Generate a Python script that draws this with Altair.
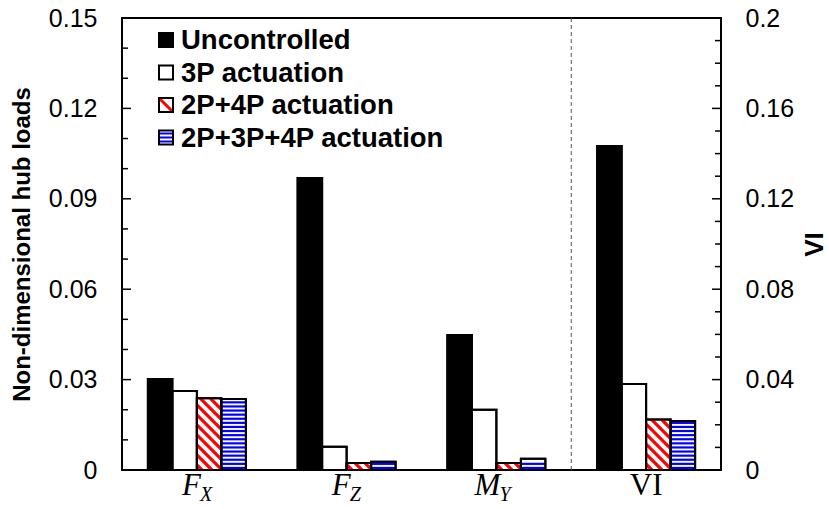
import altair as alt
import pandas as pd

# ---- data -------------------------------------------------------------
SERIES = ["Uncontrolled", "3P actuation", "2P+4P actuation", "2P+3P+4P actuation"]
LOAD_GROUPS = ["FX", "FZ", "MY"]
UNCONTROLLED = [0.0302, 0.0969, 0.0448]
ACT_3P = [0.0262, 0.0077, 0.0200]
ACT_2P4P = [0.0238, 0.0023, 0.0023]
ACT_2P3P4P = [0.0236, 0.0027, 0.0037]
VI_VALUES = [0.1434, 0.0381, 0.0224, 0.0217]

LEFT_TICKS = [0, 0.03, 0.06, 0.09, 0.12, 0.15]
RIGHT_TICKS = [0, 0.04, 0.08, 0.12, 0.16, 0.2]
LABEL_MAIN = ["F", "F", "M", "VI"]
LABEL_SUB = ["X", "Z", "Y", ""]

# ---- layout -----------------------------------------------------------
W, H = 599, 452
LOAD_MAX, VI_MAX = 0.15, 0.2
N_GROUPS = 4
BAR_W = 0.1636                      # bar width in group units
XPX = W / N_GROUPS                  # pixels per group unit
FONT = "Liberation Sans"
SERIF = "Liberation Serif"
FILLS = ["black", "white", "white", "white"]
RED, BLUE = "#ff0000", "#0000ff"

load_series = [UNCONTROLLED, ACT_3P, ACT_2P4P, ACT_2P3P4P]

rows = []
for g in range(len(LOAD_GROUPS)):
    for s, vals in enumerate(load_series):
        rows.append({"group": g, "series": SERIES[s], "s": s, "value": vals[g], "axis": "L"})
for s, v in enumerate(VI_VALUES):
    rows.append({"group": 3, "series": SERIES[s], "s": s, "value": v, "axis": "R"})
bars = pd.DataFrame(rows)
bars["x0"] = bars["group"] + 0.5 + (bars["s"] - 2) * BAR_W
bars["x1"] = bars["x0"] + BAR_W


def stripes(df, ymax):
    """Hatching segments for the patterned bars, in data units."""
    ypx = H / ymax
    out = []
    for _, r in df.iterrows():
        x0, x1 = r["x0"] * XPX, r["x1"] * XPX
        h = r["value"] * ypx
        if r["s"] == 2:     # red diagonal hatching
            p = 10.0
            c = (int(x0 // p) + 1) * p
            while c < x1 + h:
                a, b = max(x0, c - h), min(x1, c)
                if b - a > 0.5:
                    out.append({"x": a / XPX, "x2": b / XPX,
                                "y": (c - a) / ypx, "y2": (c - b) / ypx, "kind": "red"})
                c += p
        elif r["s"] == 3:   # blue horizontal hatching
            p = 4.1
            yy = p / 2
            while yy < h - 1.0:
                out.append({"x": x0 / XPX, "x2": x1 / XPX,
                            "y": yy / ypx, "y2": yy / ypx, "kind": "blue"})
                yy += p
    return pd.DataFrame(out)


xs = alt.Scale(domain=[0, N_GROUPS], nice=False, zero=False)


def ysc(m):
    return alt.Scale(domain=[0, m], nice=False, zero=True)


fill_scale = alt.Scale(domain=SERIES, range=FILLS)
stripe_color = alt.Scale(domain=["red", "blue"], range=[RED, BLUE])
stripe_width = alt.Scale(domain=["red", "blue"], range=[3.2, 2.2])

left_axis = alt.Axis(values=LEFT_TICKS, format=".2~f", ticks=False, domain=False, grid=False,
                     orient="left", labelFont=FONT, labelFontSize=25, labelColor="black",
                     labelPadding=25, title="Non-dimensional hub loads", titleFont=FONT,
                     titleFontSize=24, titleFontWeight="bold", titleColor="black",
                     titlePadding=14)
right_axis = alt.Axis(values=RIGHT_TICKS, format=".2~f", ticks=False, domain=False, grid=False,
                      orient="right", labelFont=FONT, labelFontSize=25, labelColor="black",
                      labelPadding=24, title="VI", titleFont=FONT, titleFontSize=26,
                      titleFontWeight="bold", titleColor="black", titleAngle=270,
                      titlePadding=34)


def bar_layer(df, m, axis):
    return alt.Chart(df).mark_rect(stroke="black", strokeWidth=2).encode(
        x=alt.X("x0:Q", scale=xs, axis=None),
        x2="x1",
        y=alt.Y("value:Q", scale=ysc(m), axis=axis),
        y2=alt.datum(0),
        fill=alt.Fill("series:N", scale=fill_scale, legend=None),
    )


def stripe_layer(df, m):
    return alt.Chart(df).mark_rule(strokeCap="butt").encode(
        x=alt.X("x:Q", scale=xs, axis=None), x2="x2",
        y=alt.Y("y:Q", scale=ysc(m), axis=None), y2="y2",
        stroke=alt.Stroke("kind:N", scale=stripe_color, legend=None),
        strokeWidth=alt.StrokeWidth("kind:N", scale=stripe_width, legend=None),
    )


def outline_layer(df, m):
    return alt.Chart(df).mark_rect(fillOpacity=0, stroke="black", strokeWidth=2).encode(
        x=alt.X("x0:Q", scale=xs, axis=None), x2="x1",
        y=alt.Y("value:Q", scale=ysc(m), axis=None), y2=alt.datum(0),
    )


def tick_layer(vals, m, length, side):
    df = pd.DataFrame({"t": vals})
    if side == "L":
        xe = dict(x=alt.value(0), x2=alt.value(length))
    else:
        xe = dict(x=alt.value(W - length), x2=alt.value(W))
    return alt.Chart(df).mark_rule(color="black", strokeWidth=1.5).encode(
        y=alt.Y("t:Q", scale=ysc(m), axis=None), **xe)


loads = bars[bars["axis"] == "L"]
vi = bars[bars["axis"] == "R"]

left_all = [round(i * 0.01, 2) for i in range(16)]
right_all = [round(i * 0.01, 2) for i in range(21)]
left_major = [t for t in left_all if round(t / 0.03, 6).is_integer()]
left_minor = [t for t in left_all if t not in left_major]
right_major = [t for t in right_all if round(t / 0.04, 6).is_integer()]
right_minor = [t for t in right_all if t not in right_major]

layers = [
    bar_layer(loads, LOAD_MAX, left_axis),
    bar_layer(vi, VI_MAX, right_axis),
    stripe_layer(stripes(loads, LOAD_MAX), LOAD_MAX),
    stripe_layer(stripes(vi, VI_MAX), VI_MAX),
    outline_layer(loads, LOAD_MAX),
    outline_layer(vi, VI_MAX),
    tick_layer(left_major, LOAD_MAX, 9, "L"),
    tick_layer(left_minor, LOAD_MAX, 6, "L"),
    tick_layer(right_major, VI_MAX, 9, "R"),
    tick_layer(right_minor, VI_MAX, 6, "R"),
]

# dashed separator between the hub loads and the vibration index
layers.append(
    alt.Chart(pd.DataFrame({"sep": [3]})).mark_rule(
        color="#555555", strokeWidth=1, strokeDash=[4, 3]
    ).encode(x=alt.X("sep:Q", scale=xs, axis=None))
)

# category labels with subscripts
lab = pd.DataFrame({"g": [i + 0.5 for i in range(N_GROUPS)],
                    "main": LABEL_MAIN, "sub": LABEL_SUB})
sub_lab = lab[lab["sub"] != ""]
layers.append(
    alt.Chart(sub_lab).mark_text(
        font=SERIF, fontStyle="italic", fontSize=31, align="right",
        baseline="alphabetic", dx=4, color="black"
    ).encode(x=alt.X("g:Q", scale=xs, axis=None), y=alt.value(H + 25), text="main:N")
)
layers.append(
    alt.Chart(sub_lab).mark_text(
        font=SERIF, fontStyle="italic", fontSize=20, align="left",
        baseline="alphabetic", dx=3, color="black"
    ).encode(x=alt.X("g:Q", scale=xs, axis=None), y=alt.value(H + 31), text="sub:N")
)
layers.append(
    alt.Chart(lab[lab["sub"] == ""]).mark_text(
        font=SERIF, fontSize=31, align="center", baseline="alphabetic", color="black"
    ).encode(x=alt.X("g:Q", scale=xs, axis=None), y=alt.value(H + 25), text="main:N")
)

# legend drawn inside the plot area
LEG_X0, LEG_SW, LEG_TX, LEG_Y0, LEG_DY = 37, 14, 59, 22, 32.5
for i, name in enumerate(SERIES):
    cy = LEG_Y0 + i * LEG_DY
    one = pd.DataFrame({"label": [name]})
    top, bot = cy - LEG_SW / 2, cy + LEG_SW / 2
    layers.append(
        alt.Chart(one).mark_rect(fill=FILLS[i], stroke="none").encode(
            x=alt.value(LEG_X0), x2=alt.value(LEG_X0 + LEG_SW), y=alt.value(top), y2=alt.value(bot))
    )
    if i == 2:
        layers.append(
            alt.Chart(one).mark_rule(color=RED, strokeWidth=3).encode(
                x=alt.value(LEG_X0), x2=alt.value(LEG_X0 + LEG_SW), y=alt.value(top), y2=alt.value(bot))
        )
    if i == 3:
        for k in (-4, 0, 4):
            layers.append(
                alt.Chart(one).mark_rule(color=BLUE, strokeWidth=2).encode(
                    x=alt.value(LEG_X0), x2=alt.value(LEG_X0 + LEG_SW), y=alt.value(cy + k))
            )
    layers.append(
        alt.Chart(one).mark_rect(fillOpacity=0, stroke="black", strokeWidth=2).encode(
            x=alt.value(LEG_X0), x2=alt.value(LEG_X0 + LEG_SW), y=alt.value(top), y2=alt.value(bot))
    )
    layers.append(
        alt.Chart(one).mark_text(
            font=FONT, fontSize=27.5, fontWeight="bold", align="left", baseline="middle", color="black"
        ).encode(x=alt.value(LEG_TX), y=alt.value(cy + 1), text="label:N")
    )

chart = alt.layer(*layers).resolve_scale(y="independent").properties(
    width=W, height=H,
    padding={"left": 122, "top": 18, "right": 108, "bottom": 39},
    autosize=alt.AutoSizeParams(type="none"),
    background="white",
).configure_view(stroke="black", strokeWidth=2)

chart.save("out.html", embed_options={"renderer": "svg", "actions": False})
